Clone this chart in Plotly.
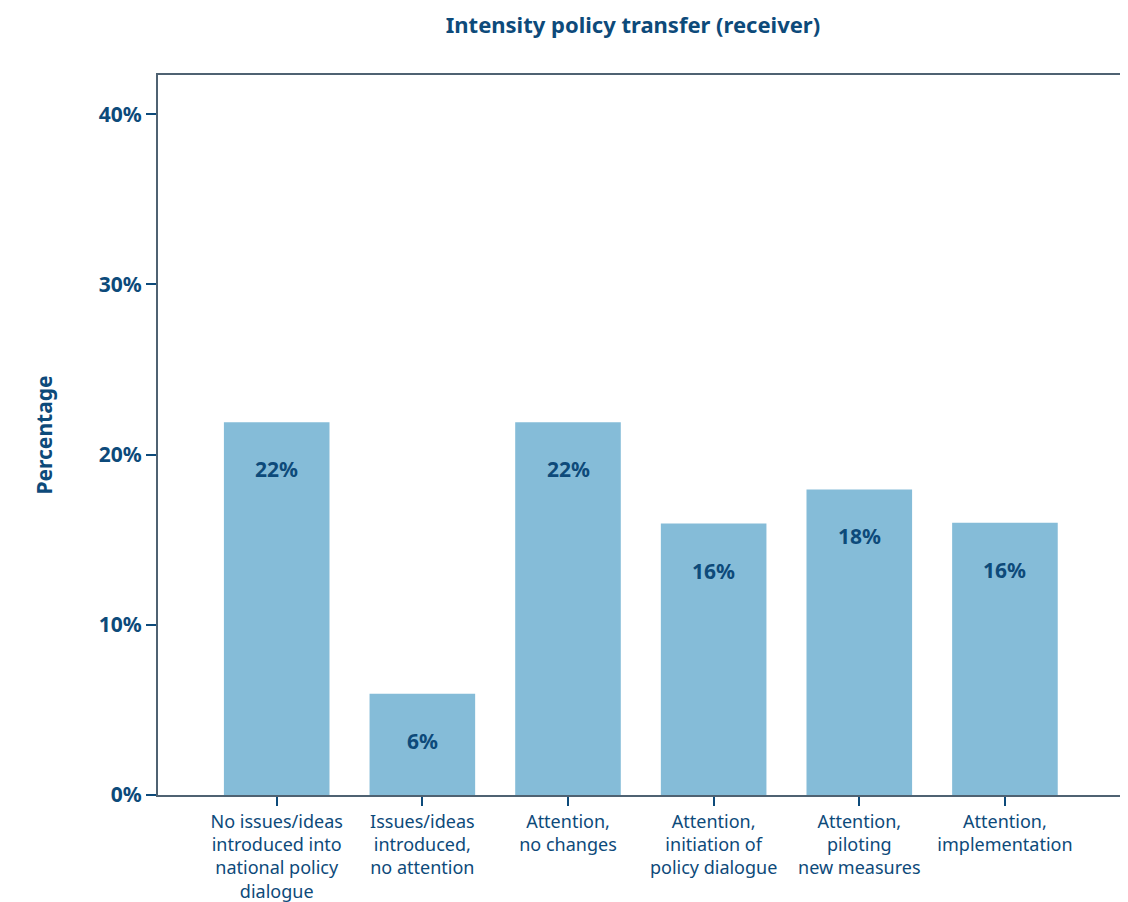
import plotly.graph_objects as go

categories = [
    "No issues/ideas<br>introduced into<br>national policy<br>dialogue",
    "Issues/ideas<br>introduced,<br>no attention",
    "Attention,<br>no changes",
    "Attention,<br>initiation of<br>policy dialogue",
    "Attention,<br>piloting<br>new measures",
    "Attention,<br>implementation",
]
values = [21.9, 5.95, 21.9, 15.95, 17.95, 16.0]
labels = ["22%", "6%", "22%", "16%", "18%", "16%"]
y_ticks = [0, 10, 20, 30, 40]
y_tick_text = ["0%", "10%", "20%", "30%", "40%"]

DARK = "#0d4a7a"
FONT = "Noto Sans"

fig = go.Figure()
fig.add_trace(go.Bar(
    x=categories, y=values,
    marker=dict(color="#85bcd8", line=dict(width=0)),
    width=0.725,
    hoverinfo="skip",
))

for c, v, t in zip(categories, values, labels):
    fig.add_annotation(
        x=c, y=v, text=f"<b>{t}</b>", showarrow=False,
        yshift=-47, yanchor="middle",
        font=dict(family=FONT, size=21, color=DARK),
    )

fig.update_layout(
    width=1120, height=894,
    paper_bgcolor="white", plot_bgcolor="white",
    margin=dict(l=150, r=8, t=67, b=107),
    showlegend=False,
    title=dict(
        text="<b>Intensity policy transfer (receiver)</b>",
        x=0.558, xanchor="center", y=0.981, yanchor="middle",
        font=dict(family=FONT, size=22, color=DARK),
    ),
    font=dict(family=FONT, color=DARK),
)
fig.update_xaxes(
    range=[-0.815, 5.79], automargin=False,
    showline=True, mirror=True, linecolor="#4f6272", linewidth=2,
    ticks="outside", ticklen=9, tickwidth=2, tickcolor=DARK,
    tickfont=dict(family=FONT, size=18, color=DARK),
    showgrid=False, zeroline=False,
)
fig.update_yaxes(
    range=[0, 42.3], automargin=False,
    tickvals=y_ticks, ticktext=[f"<b>{t}</b>" for t in y_tick_text],
    showline=True, mirror=True, linecolor="#4f6272", linewidth=2,
    ticks="outside", ticklen=10, tickwidth=2, tickcolor=DARK,
    tickfont=dict(family=FONT, size=21, color=DARK),
    showgrid=False, zeroline=False,
    title=dict(text="<b>Percentage</b>", font=dict(family=FONT, size=21, color=DARK), standoff=40),
)

fig.write_html("out.html")
